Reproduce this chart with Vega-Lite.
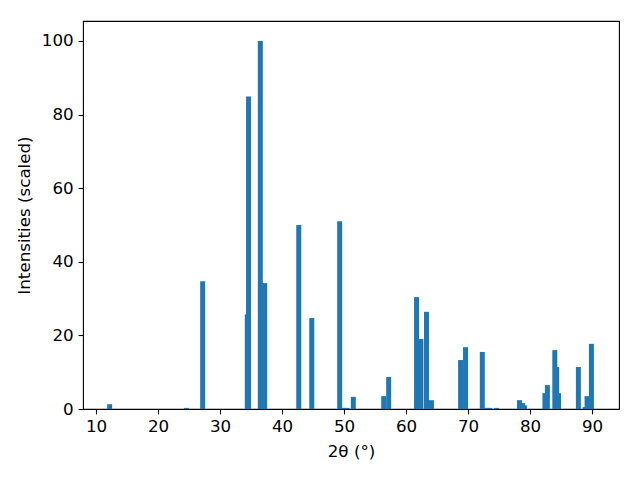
{
  "$schema": "https://vega.github.io/schema/vega-lite/v6.json",
  "width": 536,
  "height": 388,
  "autosize": {"type": "none"},
  "padding": {"left": 83, "top": 21, "right": 21, "bottom": 71},
  "background": "white",
  "config": {
    "font": "DejaVu Sans",
    "view": {"stroke": "black", "strokeWidth": 1.1},
    "axis": {
      "grid": false,
      "domain": false,
      "tickColor": "black",
      "tickSize": 4.9,
      "tickWidth": 1.1,
      "labelFont": "DejaVu Sans",
      "labelFontSize": 16.7,
      "labelColor": "black",
      "titleFont": "DejaVu Sans",
      "titleFontSize": 16.7,
      "titleFontWeight": "normal",
      "titleColor": "black",
      "labelPadding": 4.9
    }
  },
  "data": {
    "values": [
      {"t": 12.2, "i": 1.3},
      {"t": 24.6, "i": 0.3},
      {"t": 27.2, "i": 34.7},
      {"t": 34.4, "i": 25.7},
      {"t": 34.6, "i": 84.9},
      {"t": 36.5, "i": 100},
      {"t": 37.2, "i": 34.2},
      {"t": 42.7, "i": 50.0},
      {"t": 44.8, "i": 24.7},
      {"t": 49.3, "i": 51.0},
      {"t": 50.0, "i": 0.3},
      {"t": 50.5, "i": 0.3},
      {"t": 51.5, "i": 3.3},
      {"t": 56.4, "i": 3.5},
      {"t": 57.2, "i": 8.7},
      {"t": 61.7, "i": 30.4},
      {"t": 62.4, "i": 19.0},
      {"t": 63.3, "i": 26.4},
      {"t": 64.1, "i": 2.4},
      {"t": 68.8, "i": 13.3},
      {"t": 69.6, "i": 16.8},
      {"t": 72.3, "i": 15.5},
      {"t": 73.0, "i": 0.3},
      {"t": 73.5, "i": 0.3},
      {"t": 74.6, "i": 0.3},
      {"t": 78.3, "i": 2.4},
      {"t": 78.8, "i": 1.6},
      {"t": 79.1, "i": 1.0},
      {"t": 82.4, "i": 4.3},
      {"t": 82.8, "i": 6.5},
      {"t": 84.0, "i": 16.0},
      {"t": 84.3, "i": 11.4},
      {"t": 84.6, "i": 4.3},
      {"t": 87.8, "i": 11.4},
      {"t": 88.9, "i": 0.5},
      {"t": 89.2, "i": 3.5},
      {"t": 89.9, "i": 17.7}
    ]
  },
  "mark": {"type": "bar", "color": "#1f77b4", "width": 5, "cornerRadius": 0},
  "encoding": {
    "x": {
      "field": "t",
      "type": "quantitative",
      "scale": {"domain": [7.9, 94.35], "nice": false, "zero": false, "padding": 0},
      "axis": {"values": [10, 20, 30, 40, 50, 60, 70, 80, 90], "title": "2θ (°)", "titlePadding": 8}
    },
    "y": {
      "field": "i",
      "type": "quantitative",
      "scale": {"domain": [0, 105.4], "nice": false},
      "axis": {"values": [0, 20, 40, 60, 80, 100], "title": "Intensities (scaled)", "titlePadding": 8}
    }
  }
}
